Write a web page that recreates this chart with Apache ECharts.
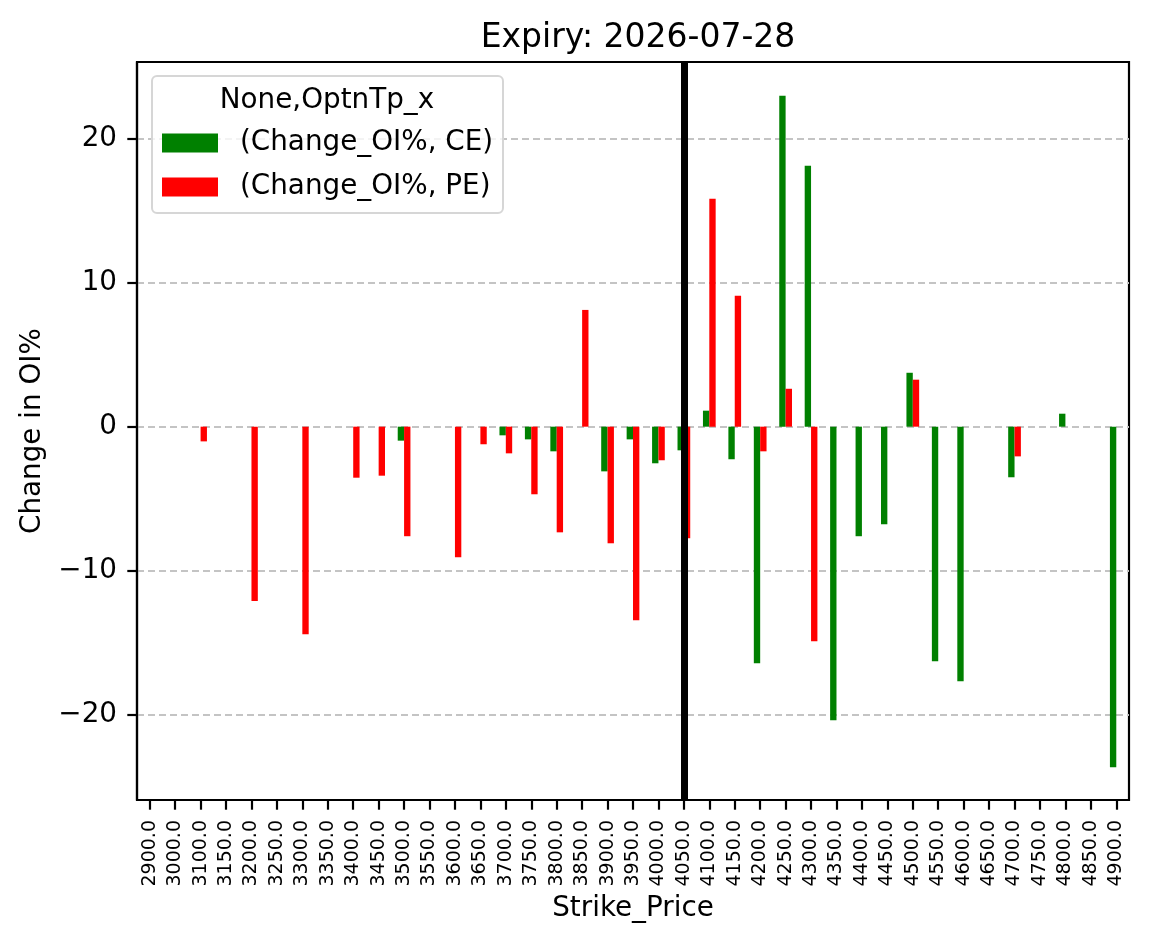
<!DOCTYPE html>
<html>
<head>
<meta charset="UTF-8"/>
<script src="https://cdn.jsdelivr.net/npm/echarts@6/dist/echarts.min.js"></script>
<style>
  html, body { margin: 0; padding: 0; background: #fff; }
  #c { width: 1149px; height: 939px; }
</style>
</head>
<body>
<div id="c"></div>
<script>
// strike prices on the x axis
const strikes = [2900, 3000, 3100, 3150, 3200, 3250, 3300, 3350, 3400, 3450,
  3500, 3550, 3600, 3650, 3700, 3750, 3800, 3850, 3900, 3950,
  4000, 4050, 4100, 4150, 4200, 4250, 4300, 4350, 4400, 4450,
  4500, 4550, 4600, 4650, 4700, 4750, 4800, 4850, 4900];

// Change_OI% for calls (CE)
const ceChange = [null, null, null, null, null, null, null, null, null, null,
  -0.97, null, null, null, -0.6, -0.88, -1.71, null, -3.1, -0.88,
  -2.54, -1.64, 1.11, -2.26, -16.41, 22.95, 18.1, -20.37, -7.6, -6.77,
  3.74, -16.27, -17.66, null, -3.51, null, 0.9, null, -23.62];

// Change_OI% for puts (PE)
const peChange = [null, null, -1.02, null, -12.1, null, -14.4, null, -3.54, -3.4,
  -7.6, null, -9.06, -1.22, -1.85, -4.69, -7.33, 8.1, -8.09, -13.43,
  -2.33, -7.74, 15.81, 9.08, -1.71, 2.63, -14.89, null, null, null,
  3.26, null, null, null, -2.06, null, null, null, null];

const yTicks = [-20, -10, 0, 10, 20];
const spotStrike = 4050;

const categories = strikes.map(s => s.toFixed(1));
const FONT = 'DejaVu Sans';

const chart = echarts.init(document.getElementById('c'), null, { renderer: 'canvas' });

chart.setOption({
  animation: false,
  backgroundColor: '#ffffff',
  textStyle: { fontFamily: FONT, color: '#000' },
  title: {
    text: 'Expiry: 2026-07-28',
    left: 633, top: 17,
    textAlign: 'center',
    textStyle: { fontFamily: FONT, fontSize: 33, fontWeight: 'normal', color: '#000' }
  },
  grid: {
    left: 137, right: 20, top: 62, bottom: 139,
    show: true, borderColor: '#000', borderWidth: 2.2, backgroundColor: 'transparent'
  },
  graphic: [
    {
      type: 'rect', z: 20,
      shape: { x: 152, y: 76, width: 351, height: 137, r: 5 },
      style: { fill: 'rgba(255,255,255,0.8)', stroke: '#d6d6d6', lineWidth: 2 }
    },
    {
      type: 'text', z: 21,
      x: 327, y: 101,
      style: {
        text: 'None,OptnTp_x', fontFamily: FONT, fontSize: 27.8, fill: '#000',
        align: 'center', verticalAlign: 'middle'
      }
    }
  ],
  legend: {
    z: 22,
    orient: 'vertical',
    left: 162, top: 129,
    padding: 0,
    itemWidth: 56, itemHeight: 19,
    itemGap: 16,
    icon: 'rect',
    textStyle: { fontFamily: FONT, fontSize: 27.8, color: '#000', lineHeight: 19, padding: [0, 0, 0, 17] },
    data: ['(Change_OI%, CE)', '(Change_OI%, PE)']
  },
  xAxis: {
    type: 'category',
    data: categories,
    name: 'Strike_Price',
    nameLocation: 'middle',
    nameGap: 84,
    nameTextStyle: { fontFamily: FONT, fontSize: 27.8, color: '#000' },
    axisLine: { show: true, onZero: false, lineStyle: { color: '#000', width: 2.2 } },
    axisTick: { show: true, alignWithLabel: true, length: 9.7, lineStyle: { color: '#000', width: 2.2 } },
    axisLabel: { interval: 0, rotate: 90, margin: 20, fontFamily: FONT, fontSize: 19, color: '#000' },
    splitLine: { show: false }
  },
  yAxis: {
    type: 'value',
    min: -25.9, max: 25.3,
    name: 'Change in OI%',
    nameLocation: 'middle',
    nameRotate: 90,
    nameGap: 90,
    nameTextStyle: { fontFamily: FONT, fontSize: 27.8, color: '#000' },
    axisLine: { show: true, lineStyle: { color: '#000', width: 2.2 } },
    axisTick: { show: true, length: 9.7, customValues: yTicks, lineStyle: { color: '#000', width: 2.2 } },
    axisLabel: {
      customValues: yTicks,
      margin: 20, fontFamily: FONT, fontSize: 27.8, color: '#000',
      formatter: v => (v < 0 ? '\u2212' + Math.abs(v) : String(v))
    },
    splitLine: { show: true, lineStyle: { color: '#c4c4c4', width: 2, type: [7, 4] } }
  },
  series: [
    {
      name: '(Change_OI%, CE)',
      type: 'bar',
      data: ceChange,
      barWidth: '25%',
      barGap: '0%',
      itemStyle: { color: '#008000' }
    },
    {
      name: '(Change_OI%, PE)',
      type: 'bar',
      data: peChange,
      barWidth: '25%',
      barGap: '0%',
      itemStyle: { color: '#ff0000' }
    },
    {
      // vertical marker at the spot strike
      name: 'spot',
      type: 'line',
      data: [],
      z: 5,
      markLine: {
        silent: true,
        symbol: 'none',
        label: { show: false },
        lineStyle: { color: '#000', width: 7, type: 'solid' },
        data: [{ xAxis: spotStrike.toFixed(1) }]
      }
    }
  ]
});
</script>
</body>
</html>
